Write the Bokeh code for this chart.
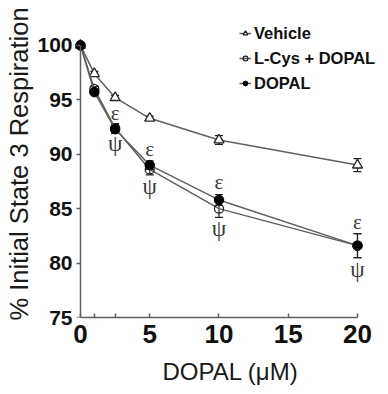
from bokeh.plotting import figure
from bokeh.models import (Range1d, ColumnDataSource, Whisker, TeeHead, Legend,
                          LegendItem, FixedTicker, LinearAxis)
from bokeh.core.properties import value
from bokeh.embed import file_html
from bokeh.resources import INLINE

# ---- data ----
doses = [0, 1, 2.5, 5, 10, 20]
vehicle = [100, 97.4, 95.2, 93.3, 91.3, 89.0]
vehicle_err = [0, 0.2, 0.2, 0.2, 0.4, 0.6]
lcys = [100, 96.0, 92.4, 88.6, 85.0, 81.6]
lcys_err = [0, 0.2, 0.4, 0.5, 0.8, 1.1]
dopal = [100, 95.7, 92.3, 89.0, 85.8, 81.6]
dopal_err = [0, 0.2, 0.4, 0.4, 0.5, 1.1]
sig_doses = [2.5, 5, 10, 20]
x_ticks = [0, 1, 2.5, 5, 10, 15, 20]
x_tick_labels = {0: "0", 1: "", 2.5: "", 5: "5", 10: "10", 15: "15", 20: "20"}
y_ticks = [75, 80, 85, 90, 95, 100]
series_names = ["Vehicle", "L-Cys + DOPAL", "DOPAL"]

FONT = "Liberation Sans"
LINE_GRAY = "#606060"

p = figure(width=388, height=394,
           x_range=Range1d(-0.577, 22.24), y_range=Range1d(75, 103.2),
           output_backend="svg", toolbar_location=None,
           x_axis_type=None, y_axis_type=None,
           min_border_left=72, min_border_right=0,
           min_border_top=10, min_border_bottom=77)
p.outline_line_color = None
p.background_fill_color = "white"
p.border_fill_color = "white"

# x axis
xaxis = LinearAxis(ticker=FixedTicker(ticks=x_ticks), bounds=(0, 20))
xaxis.major_label_overrides = x_tick_labels
xaxis.axis_label = "DOPAL (\u03bcM)"
xaxis.axis_label_text_font = FONT
xaxis.axis_label_text_font_size = "24px"
xaxis.axis_label_text_font_style = "normal"
xaxis.axis_label_text_color = "#1a1a1a"
xaxis.axis_label_standoff = 12
xaxis.major_label_text_font = FONT
xaxis.major_label_text_font_size = "26px"
xaxis.major_label_text_font_style = "bold"
xaxis.major_label_text_color = "#111111"
xaxis.major_label_standoff = 7
xaxis.major_tick_in = 4
xaxis.major_tick_out = 0
xaxis.minor_tick_line_color = None
xaxis.axis_line_color = LINE_GRAY
xaxis.axis_line_width = 1.5
xaxis.major_tick_line_color = LINE_GRAY
xaxis.major_tick_line_width = 1.5
p.add_layout(xaxis, "below")

# y axis: labels at the frame edge
ylab = LinearAxis(ticker=FixedTicker(ticks=y_ticks))
ylab.axis_label = "% Initial State 3 Respiration"
ylab.axis_label_text_font = FONT
ylab.axis_label_text_font_size = "25.5px"
ylab.axis_label_text_font_style = "normal"
ylab.axis_label_text_color = "#1a1a1a"
ylab.axis_label_standoff = 1
ylab.major_label_text_font = FONT
ylab.major_label_text_font_size = "21px"
ylab.major_label_text_font_style = "bold"
ylab.major_label_text_color = "#111111"
ylab.major_label_standoff = 0
ylab.major_tick_in = 0
ylab.major_tick_out = 0
ylab.minor_tick_line_color = None
ylab.axis_line_color = None
ylab.major_tick_line_color = None
p.add_layout(ylab, "left")

# y axis: line and ticks at x = 0
yline = LinearAxis(ticker=FixedTicker(ticks=y_ticks), bounds=(75, 100),
                   fixed_location=0)
yline.major_label_overrides = {t: "" for t in y_ticks}
yline.major_label_standoff = 0
yline.major_tick_in = 4
yline.major_tick_out = 0
yline.minor_tick_line_color = None
yline.axis_line_color = LINE_GRAY
yline.axis_line_width = 1.5
yline.major_tick_line_color = LINE_GRAY
yline.major_tick_line_width = 1.5
p.add_layout(yline, "right")

p.xgrid.visible = False
p.ygrid.visible = False

# sources
def make_src(mean, err):
    return ColumnDataSource(dict(
        x=doses, y=mean,
        lower=[m - e for m, e in zip(mean, err)],
        upper=[m + e for m, e in zip(mean, err)]))

src_v = make_src(vehicle, vehicle_err)
src_l = make_src(lcys, lcys_err)
src_d = make_src(dopal, dopal_err)

items = []
specs = [
    (src_v, dict(marker="triangle", size=10, fill_color="white", line_color="#222222", line_width=1.3)),
    (src_l, dict(marker="circle", size=9, fill_color=None, line_color="#222222", line_width=1.3)),
    (src_d, dict(marker="circle", size=9.5, fill_color="black", line_color="black", line_width=1)),
]
for (src, mk), name in zip(specs, series_names):
    ln = p.line("x", "y", source=src, line_color=LINE_GRAY, line_width=1.5)
    w = Whisker(base="x", lower="lower", upper="upper", source=src,
                line_color="#222222", line_width=1.2,
                upper_head=TeeHead(size=8, line_color="#222222", line_width=1.2),
                lower_head=TeeHead(size=8, line_color="#222222", line_width=1.2))
    p.add_layout(w)
    sc = p.scatter("x", "y", source=src, **mk)
    items.append(LegendItem(label=name, renderers=[ln, sc]))

# significance symbols: epsilon above DOPAL, psi below L-Cys
idx = [doses.index(d) for d in sig_doses]
eps_src = ColumnDataSource(dict(
    x=sig_doses, y=[dopal[i] + dopal_err[i] for i in idx],
    t=["\u03b5"] * len(sig_doses)))
psi_src = ColumnDataSource(dict(
    x=sig_doses, y=[lcys[i] - lcys_err[i] for i in idx],
    t=["\u03c8"] * len(sig_doses)))
p.text("x", "y", text="t", source=eps_src, text_font=value("Liberation Serif"),
       text_font_size="21px", text_color="#3a3a3a", text_align="center",
       text_baseline="bottom", y_offset=0)
p.text("x", "y", text="t", source=psi_src, text_font=value("Liberation Serif"),
       text_font_size="23px", text_color="#3a3a3a", text_align="center",
       text_baseline="top", y_offset=-1)

legend = Legend(items=items, location=(167, 224))
legend.label_text_font = FONT
legend.label_text_font_size = "16.5px"
legend.label_text_font_style = "bold"
legend.label_text_color = "#111111"
legend.glyph_width = 12
legend.glyph_height = 20
legend.label_height = 20
legend.spacing = 5
legend.padding = 0
legend.margin = 0
legend.label_standoff = 3
legend.border_line_color = None
legend.background_fill_alpha = 0
p.add_layout(legend, "center")

open("out.html", "w").write(file_html(p, INLINE))
